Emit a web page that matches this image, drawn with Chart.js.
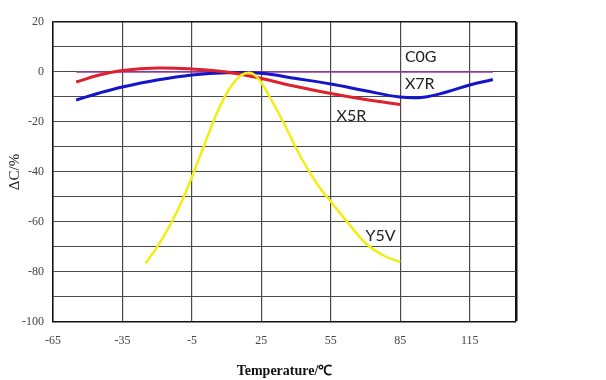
<!DOCTYPE html>
<html>
<head>
<meta charset="utf-8">
<script src="https://cdn.jsdelivr.net/npm/chart.js@4/dist/chart.umd.min.js"></script>
<style>
  html, body { margin: 0; padding: 0; background: #fff; }
  #wrap { width: 606px; height: 380px; position: relative; }
</style>
</head>
<body>
<div id="wrap"><canvas id="chartCap"></canvas></div>
<script>
// temperature ticks (°C) and capacitance change (%)
const xTicks = [-65, -35, -5, 25, 55, 85, 115];

const c0gTemp = [-55, 125];
const c0gVal  = [0, 0];

const x7rTemp = [-55, -45, -35, -20, -5, 10, 25, 40, 55, 70, 85, 95, 105, 115, 125];
const x7rVal  = [-11.2, -8.4, -6, -3.2, -1.2, -0.3, -0.5, -2.6, -4.8, -7.5, -10, -10.1, -8, -5.2, -3];

const x5rTemp = [-55, -45, -35, -20, -5, 10, 25, 40, 55, 70, 85];
const x5rVal  = [-4, -1.2, 0.6, 1.6, 1.2, 0, -2.6, -5.8, -8.6, -11, -13];

const y5vTemp = [-25, -20, -14, -9, -5, 0, 6, 11, 16, 20, 24, 28, 35, 42, 50, 56, 63, 70, 78, 85];
const y5vVal  = [-76.5, -70, -60.5, -51, -42, -30, -16, -7, -1.5, -0.3, -3, -9, -21, -34, -46, -53, -61, -68.5, -73.5, -76];

const seriesLabels = [
    { text: 'C0G', x: 87, y: 6 },
    { text: 'X7R', x: 87, y: -4.8 },
    { text: 'X5R', x: 57.5, y: -17.6 },
    { text: 'Y5V', x: 70, y: -65.6 }
];

function pts(t, v) {
    return t.map((x, i) => ({ x: x, y: v[i] }));
}

// series names written inside the plot
const labelPlugin = {
    id: 'seriesNames',
    afterDatasetsDraw(chart) {
        const ctx = chart.ctx;
        const sx = chart.scales.x, sy = chart.scales.y;
        ctx.save();
        ctx.font = '16px Lato, "Open Sans", sans-serif';
        ctx.fillStyle = '#222';
        ctx.textAlign = 'left';
        ctx.textBaseline = 'middle';
        seriesLabels.forEach(l => {
            ctx.fillText(l.text, sx.getPixelForValue(l.x), sy.getPixelForValue(l.y));
        });
        ctx.restore();
    }
};

const ctx = document.getElementById('chartCap');
new Chart(ctx, {
    type: 'line',
    data: {
        datasets: [
            { label: 'Y5V', data: pts(y5vTemp, y5vVal), borderColor: '#f2ee10', borderWidth: 2.5, cubicInterpolationMode: 'monotone' },
            { label: 'X5R', data: pts(x5rTemp, x5rVal), borderColor: '#e0202c', borderWidth: 3, tension: 0.4 },
            { label: 'X7R', data: pts(x7rTemp, x7rVal), borderColor: '#1414c8', borderWidth: 3, tension: 0.4 },
            { label: 'C0G', data: pts(c0gTemp, c0gVal), borderColor: '#9a3aa8', borderWidth: 1.5 }
        ]
    },
    options: {
        responsive: true,
        maintainAspectRatio: false,
        animation: false,
        layout: { padding: { left: 0, right: 90, top: 22, bottom: 0 } },
        elements: { point: { radius: 0 } },
        plugins: {
            legend: { display: false },
            tooltip: { enabled: false }
        },
        scales: {
            x: {
                type: 'linear',
                min: -65,
                max: 135,
                afterBuildTicks: (s) => { s.ticks = xTicks.concat([135]).map(v => ({ value: v })); },
                afterFit: (s) => { s.height = 58; },
                grid: {
                    drawTicks: false,
                    color: (c) => c.tick && c.tick.value === 135 ? '#111' : '#4a4a4a',
                    lineWidth: (c) => c.tick && c.tick.value === 135 ? 2.5 : 1.2
                },
                border: { color: '#111', width: 1.5 },
                ticks: {
                    padding: 12,
                    color: '#444',
                    font: { family: '"Liberation Serif", serif', size: 12 },
                    callback: (v) => v === 135 ? '' : v
                },
                title: {
                    display: true,
                    text: 'Temperature/℃',
                    color: '#111',
                    font: { family: '"Liberation Serif", serif', size: 14, weight: 'bold' },
                    padding: { top: 4, bottom: 0 }
                }
            },
            y: {
                min: -100,
                max: 20,
                afterFit: (s) => { s.width = 53; },
                grid: {
                    drawTicks: false,
                    color: (c) => c.tick && c.tick.value === 20 ? '#111' : '#4a4a4a',
                    lineWidth: (c) => c.tick && c.tick.value === 20 ? 1.5 : 1.1
                },
                border: { color: '#111', width: 1.5 },
                ticks: {
                    stepSize: 10,
                    padding: 9,
                    color: '#444',
                    font: { family: '"Liberation Serif", serif', size: 12 },
                    callback: (v) => v % 20 === 0 ? v : ''
                },
                title: {
                    display: true,
                    text: 'ΔC/%',
                    color: '#222',
                    font: { family: '"Liberation Serif", serif', size: 15 },
                    padding: { top: 6, bottom: 0 }
                }
            }
        }
    },
    plugins: [labelPlugin]
});
</script>
</body>
</html>
